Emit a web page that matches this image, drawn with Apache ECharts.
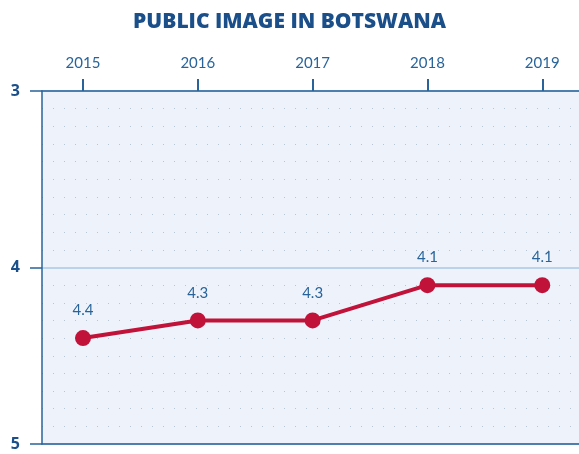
<!DOCTYPE html>
<html>
<head>
<meta charset="utf-8">
<script src="https://cdn.jsdelivr.net/npm/echarts@6/dist/echarts.min.js"></script>
<style>
  html, body { margin: 0; padding: 0; background: #fff; }
  #main { width: 579px; height: 454px; }
</style>
</head>
<body>
<div id="main"></div>
<script>
var years = [2015, 2016, 2017, 2018, 2019];
var scores = [4.4, 4.3, 4.3, 4.1, 4.1];
var yTicks = [3, 4, 5];

var blue = '#28649a';
var red = '#c1123a';

var chart = echarts.init(document.getElementById('main'));

var points = [];
for (var i = 0; i < years.length; i++) {
  points.push([years[i], scores[i]]);
}

var option = {
  backgroundColor: '#fff',
  animation: false,
  title: {
    text: 'PUBLIC IMAGE IN BOTSWANA',
    left: 'center',
    top: 7,
    textStyle: {
      fontFamily: 'Open Sans',
      fontWeight: 800,
      fontSize: 21,
      color: '#1b4f8a'
    }
  },
  grid: {
    left: 42,
    right: 0,
    top: 91,
    bottom: 10,
    show: true,
    backgroundColor: '#eef3fb',
    borderWidth: 0
  },
  xAxis: [{
    type: 'value',
    position: 'top',
    min: 2014.643,
    max: 2019.32,
    axisLine: { show: true, lineStyle: { color: blue, width: 1.5 } },
    axisTick: {
      show: true,
      customValues: years,
      length: 12,
      inside: false,
      lineStyle: { color: blue, width: 2 }
    },
    axisLabel: {
      customValues: years,
      margin: 20,
      color: blue,
      fontFamily: 'Lato',
      fontSize: 15,
      formatter: function (v) { return String(v); }
    },
    splitLine: { show: false }
  }, {
    // bottom frame line only
    type: 'value',
    position: 'bottom',
    min: 2014.643,
    max: 2019.32,
    axisLine: { show: true, lineStyle: { color: blue, width: 1.5 } },
    axisTick: { show: false },
    axisLabel: { show: false },
    splitLine: { show: false }
  }],
  yAxis: {
    type: 'value',
    inverse: true,
    min: 3,
    max: 5,
    interval: 1,
    axisLine: { show: true, lineStyle: { color: blue, width: 1.5 } },
    axisTick: { show: true, length: 12, lineStyle: { color: blue, width: 1.5 } },
    axisLabel: {
      margin: 22,
      color: '#1b4f8a',
      fontFamily: 'Open Sans',
      fontWeight: 'bold',
      fontSize: 16,
      formatter: function (v) { return yTicks.indexOf(v) >= 0 ? String(v) : ''; }
    },
    splitLine: { show: true, lineStyle: { color: '#a9c8e6', width: 1.5 } },
    minorTick: { show: false, splitNumber: 10 },
    minorSplitLine: {
      show: true,
      lineStyle: { color: '#b9c4d2', type: [1, 10], width: 1 }
    }
  },
  series: [{
    type: 'line',
    data: points,
    symbol: 'circle',
    symbolSize: 16,
    lineStyle: { color: red, width: 4 },
    itemStyle: { color: red },
    label: {
      show: true,
      position: 'top',
      distance: 12,
      color: blue,
      fontFamily: 'Lato',
      fontSize: 15,
      formatter: function (p) { return p.value[1].toFixed(1); }
    }
  }]
};

chart.setOption(option);
</script>
</body>
</html>
